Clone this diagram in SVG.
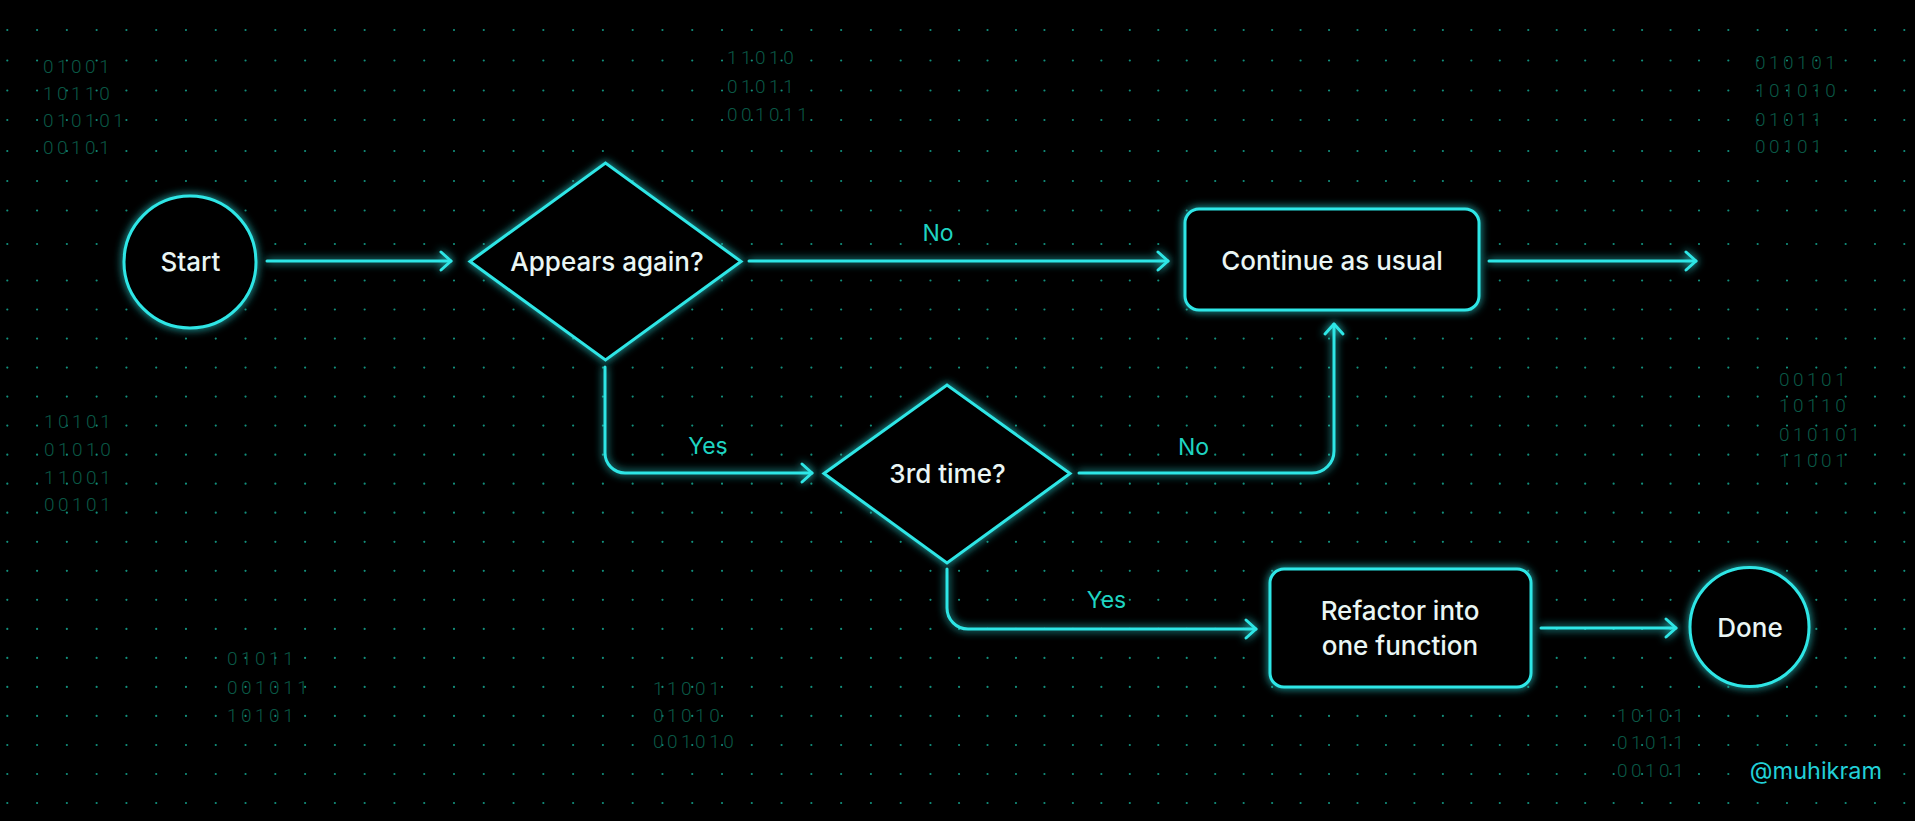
<svg xmlns="http://www.w3.org/2000/svg" xmlns:xlink="http://www.w3.org/1999/xlink" width="1915" height="821" viewBox="0 0 1915 821">
<defs>
<style>
.dotrow path{stroke:#128f7c;stroke-width:2.2;stroke-linecap:round;fill:none}
.bin{font-family:Roboto,"Liberation Sans",sans-serif;font-weight:300;font-size:19px;letter-spacing:3.5px;fill:#0a5846}
.shape{fill:#000;stroke:#2fe6e6;stroke-width:3}
.edge{fill:none;stroke:#2fe6e6;stroke-width:3;stroke-linecap:round;stroke-linejoin:round}
.ntext{font-family:Inter,"Liberation Sans",sans-serif;font-weight:500;font-size:26px;fill:#eaf6f4;text-anchor:middle}
.elabel{font-family:Inter,"Liberation Sans",sans-serif;font-weight:400;font-size:23px;fill:#1fd4c2;text-anchor:middle}
.wm{font-family:Inter,"Liberation Sans",sans-serif;font-weight:400;font-size:23.5px;fill:#22d0d8;text-anchor:middle}
</style>
<filter id="glow" filterUnits="userSpaceOnUse" x="0" y="0" width="1915" height="821">
<feGaussianBlur in="SourceGraphic" stdDeviation="4" result="b"/>
<feMerge><feMergeNode in="b"/><feMergeNode in="SourceGraphic"/></feMerge>
</filter>
<marker id="arr" markerUnits="userSpaceOnUse" markerWidth="30" markerHeight="30" refX="0" refY="0" viewBox="-15 -15 30 30" orient="auto" overflow="visible">
<path d="M-10,-9 L0,0 L-10,9" fill="none" stroke="#2fe6e6" stroke-width="3" stroke-linecap="round" stroke-linejoin="round"/>
</marker>
<g id="dotrow" class="dotrow">
<path d="M7.3 0H932" stroke="#128f7c" stroke-width="2.2" stroke-linecap="round" stroke-dasharray="0 29.78"/>
<path d="M959.06 0H1672" stroke="#128f7c" stroke-width="2.2" stroke-linecap="round" stroke-dasharray="0 28.46"/>
<path d="M1699 0H1915" stroke="#128f7c" stroke-width="2.2" stroke-linecap="round" stroke-dasharray="0 29.33"/>
</g>
</defs>

<rect width="1915" height="821" fill="#000"/>

<g id="dot-grid">
<use xlink:href="#dotrow" y="30"/>
<use xlink:href="#dotrow" y="60.5"/>
<use xlink:href="#dotrow" y="90.5"/>
<use xlink:href="#dotrow" y="120"/>
<use xlink:href="#dotrow" y="151"/>
<use xlink:href="#dotrow" y="181"/>
<use xlink:href="#dotrow" y="210.5"/>
<use xlink:href="#dotrow" y="244"/>
<use xlink:href="#dotrow" y="280.5"/>
<use xlink:href="#dotrow" y="309.5"/>
<use xlink:href="#dotrow" y="338.6"/>
<use xlink:href="#dotrow" y="367.6"/>
<use xlink:href="#dotrow" y="396.6"/>
<use xlink:href="#dotrow" y="425.6"/>
<use xlink:href="#dotrow" y="454.7"/>
<use xlink:href="#dotrow" y="483.7"/>
<use xlink:href="#dotrow" y="512.7"/>
<use xlink:href="#dotrow" y="541.8"/>
<use xlink:href="#dotrow" y="570.8"/>
<use xlink:href="#dotrow" y="599.8"/>
<use xlink:href="#dotrow" y="628.9"/>
<use xlink:href="#dotrow" y="657.9"/>
<use xlink:href="#dotrow" y="686.9"/>
<use xlink:href="#dotrow" y="715.9"/>
<use xlink:href="#dotrow" y="745"/>
<use xlink:href="#dotrow" y="774"/>
<use xlink:href="#dotrow" y="803"/>
</g>

<g class="bin">
<text x="43" y="73">01001</text>
<text x="43" y="100">10110</text>
<text x="43" y="127">010101</text>
<text x="43" y="154">00101</text>
<text x="44" y="428">10101</text>
<text x="44" y="456">01010</text>
<text x="44" y="484">11001</text>
<text x="44" y="511">00101</text>
<text x="227" y="665">01011</text>
<text x="227" y="694">001011</text>
<text x="227" y="722">10101</text>
<text x="727" y="64">11010</text>
<text x="727" y="93">01011</text>
<text x="727" y="121">001011</text>
<text x="653" y="695">11001</text>
<text x="653" y="722">01010</text>
<text x="653" y="748">001010</text>
<text x="1755" y="69">010101</text>
<text x="1755" y="97">101010</text>
<text x="1755" y="126">01011</text>
<text x="1755" y="153">00101</text>
<text x="1779" y="386">00101</text>
<text x="1779" y="412">10110</text>
<text x="1779" y="441">010101</text>
<text x="1779" y="467">11001</text>
<text x="1617" y="722">10101</text>
<text x="1617" y="749">01011</text>
<text x="1617" y="777">00101</text>
</g>

<g id="connectors" filter="url(#glow)">
<path class="edge" d="M267 261H451" marker-end="url(#arr)"/>
<path class="edge" d="M749 261H1168" marker-end="url(#arr)"/>
<path class="edge" d="M1489 261H1696" marker-end="url(#arr)"/>
<path class="edge" d="M605 367V453A20 20 0 0 0 625 473H812" marker-end="url(#arr)"/>
<path class="edge" d="M1079 473H1312A22 22 0 0 0 1334 451V324" marker-end="url(#arr)"/>
<path class="edge" d="M947 569V608A21 21 0 0 0 968 629H1256" marker-end="url(#arr)"/>
<path class="edge" d="M1541 628H1676" marker-end="url(#arr)"/>
</g>

<g id="edge-labels">
<text class="elabel" x="938" y="241">No</text>
<text class="elabel" x="708" y="454">Yes</text>
<text class="elabel" x="1193.5" y="455">No</text>
<text class="elabel" x="1106.5" y="608">Yes</text>
</g>

<g id="node-start">
<circle class="shape" cx="190" cy="262" r="66" filter="url(#glow)"/>
<text class="ntext" x="190.5" y="271">Start</text>
</g>
<g id="node-appears">
<polygon class="shape" points="470,261.5 605.5,163 741,261.5 605.5,360" filter="url(#glow)"/>
<text class="ntext" x="607" y="271">Appears again?</text>
</g>
<g id="node-continue">
<rect class="shape" x="1185" y="209" width="294" height="101" rx="14" filter="url(#glow)"/>
<text class="ntext" x="1332" y="270">Continue as usual</text>
</g>
<g id="node-third">
<polygon class="shape" points="824,473.5 947,385 1070,473.5 947,563" filter="url(#glow)"/>
<text class="ntext" x="947.5" y="483">3rd time?</text>
</g>
<g id="node-refactor">
<rect class="shape" x="1270" y="569" width="261" height="118" rx="14" filter="url(#glow)"/>
<text class="ntext" x="1400" y="620">Refactor into</text>
<text class="ntext" x="1400" y="655">one function</text>
</g>
<g id="node-done">
<circle class="shape" cx="1749.5" cy="627" r="59.5" filter="url(#glow)"/>
<text class="ntext" x="1750" y="637">Done</text>
</g>

<text class="wm" x="1816" y="779">@muhikram</text>
</svg>
